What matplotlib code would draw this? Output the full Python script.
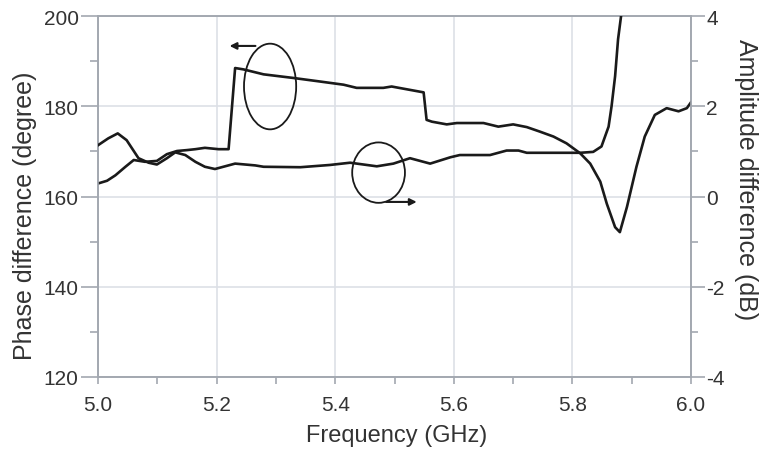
import matplotlib.pyplot as plt
import numpy as np
from matplotlib.patches import Ellipse

plt.rcParams['font.family'] = ['Liberation Sans', 'DejaVu Sans']
plt.rcParams['axes.unicode_minus'] = False

# phase difference (degree), left axis
phase_freq = [5.000, 5.015, 5.029, 5.046, 5.060, 5.079, 5.099, 5.116, 5.133, 5.150,
              5.164, 5.180, 5.203, 5.220, 5.231, 5.245, 5.279, 5.329, 5.369, 5.414,
              5.436, 5.481, 5.495, 5.549, 5.554, 5.563, 5.588, 5.605, 5.650, 5.675,
              5.700, 5.723, 5.745, 5.768, 5.790, 5.813, 5.830, 5.847, 5.858, 5.872,
              5.880, 5.892, 5.908, 5.922, 5.939, 5.959, 5.979, 5.993, 6.000]
phase_deg = [162.9, 163.5, 164.7, 166.6, 168.1, 167.7, 167.9, 169.4, 170.1, 170.3,
             170.5, 170.8, 170.5, 170.5, 188.5, 188.2, 187.1, 186.3, 185.6, 184.8,
             184.1, 184.1, 184.4, 183.1, 177.0, 176.6, 176.0, 176.3, 176.3, 175.5,
             176.0, 175.4, 174.4, 173.3, 171.8, 169.6, 167.3, 163.3, 158.4, 153.2,
             152.1, 157.7, 166.6, 173.3, 178.1, 179.6, 178.9, 179.6, 180.9]

# amplitude difference (dB), right axis
amp_freq = [5.000, 5.017, 5.033, 5.048, 5.068, 5.085, 5.099, 5.116, 5.130, 5.147,
            5.164, 5.180, 5.197, 5.231, 5.265, 5.279, 5.341, 5.391, 5.425, 5.470,
            5.498, 5.526, 5.560, 5.594, 5.610, 5.661, 5.689, 5.709, 5.723, 5.813,
            5.835, 5.849, 5.861, 5.866, 5.872, 5.877, 5.884]
amp_db = [1.14, 1.29, 1.40, 1.25, 0.85, 0.75, 0.71, 0.85, 0.98, 0.92,
          0.77, 0.66, 0.61, 0.73, 0.69, 0.66, 0.65, 0.70, 0.75, 0.67,
          0.73, 0.85, 0.73, 0.87, 0.92, 0.92, 1.02, 1.02, 0.97, 0.97,
          0.99, 1.11, 1.55, 2.00, 2.67, 3.49, 4.20]

grid_c = '#dde0e6'
spine_c = '#a3a8b0'
text_c = '#333333'

fig, ax = plt.subplots(figsize=(7.61, 4.52), dpi=100)
fig.subplots_adjust(left=0.129, right=0.908, top=0.962, bottom=0.164)
ax2 = ax.twinx()

ax.plot(phase_freq, phase_deg, color='#1a1a1a', lw=1.9, zorder=3)
ax2.plot(amp_freq, amp_db, color='#1a1a1a', lw=1.9, zorder=3)

ax.set_xlim(5.0, 6.0)
ax.set_ylim(120, 200)
ax2.set_ylim(-4, 4)

ax.set_xticks(np.arange(5.0, 6.01, 0.2))
ax.set_xticks(np.arange(5.1, 6.0, 0.2), minor=True)
ax.set_yticks(np.arange(120, 201, 20))
ax.set_yticks(np.arange(130, 200, 20), minor=True)
ax2.set_yticks(np.arange(-4, 5, 2))
ax2.set_yticks(np.arange(-3, 4, 2), minor=True)
ax.set_xticklabels(['5.0', '5.2', '5.4', '5.6', '5.8', '6.0'])

ax.grid(True, which='major', color=grid_c, lw=1.2, zorder=0)
ax.set_axisbelow(True)

for a in (ax, ax2):
    for s in a.spines.values():
        s.set_color(spine_c)
        s.set_linewidth(1.2)
ax.tick_params(axis='y', which='major', length=12, width=1.2, color=spine_c,
               labelsize=15, labelcolor=text_c, pad=2)
ax.tick_params(axis='y', which='minor', length=6, width=1.2, color=spine_c)
ax.tick_params(axis='x', which='major', length=5, width=1.2, color=spine_c,
               labelsize=15, labelcolor=text_c, pad=8)
ax.tick_params(axis='x', which='minor', length=5, width=1.2, color=spine_c)
ax2.tick_params(axis='y', which='major', length=10, width=1.2, color=spine_c,
                labelsize=15, labelcolor=text_c, pad=1)
ax2.tick_params(axis='y', which='minor', length=5, width=1.2, color=spine_c)

ax.set_xlabel('Frequency (GHz)', fontsize=17, color=text_c)
ax.xaxis.set_label_coords(0.504, -0.13)
ax.set_ylabel('Phase difference (degree)', fontsize=18, color=text_c)
ax.yaxis.set_label_coords(-0.103, 0.45)
ax2.set_ylabel('Amplitude difference (dB)', fontsize=18, color=text_c,
               rotation=270, va='bottom')
ax2.yaxis.set_label_coords(1.072, 0.55)

# annotations: ellipses and arrows marking which axis each curve uses
ax.add_patch(Ellipse((5.290, 184.4), 0.088, 19, fill=False, ec='#1a1a1a', lw=1.3, zorder=4))
ax.annotate('', xy=(5.217, 193.4), xytext=(5.270, 193.4),
            arrowprops=dict(arrowstyle='-|>', color='#1a1a1a', lw=1.5, mutation_scale=10))
ax.add_patch(Ellipse((5.473, 165.3), 0.089, 13.4, fill=False, ec='#1a1a1a', lw=1.3, zorder=4))
ax.annotate('', xy=(5.542, 158.8), xytext=(5.481, 158.8),
            arrowprops=dict(arrowstyle='-|>', color='#1a1a1a', lw=1.5, mutation_scale=10))

fig.savefig('out.png', dpi=100)
